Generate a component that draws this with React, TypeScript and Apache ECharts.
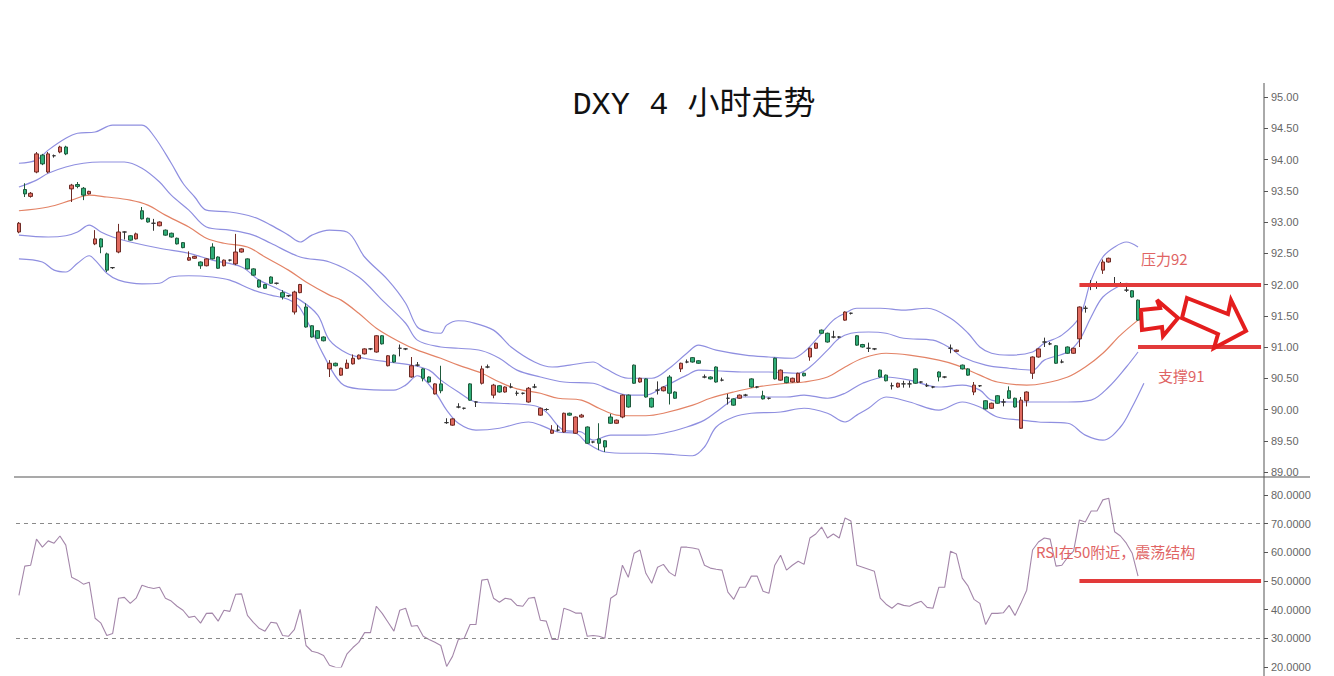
import React, { useEffect, useRef } from 'react';
import * as echarts from 'echarts';

const TITLE = 'DXY 4 小时走势';
const SLOT_COUNT = 213;
const PRICE_MIN = 89;
const PRICE_MAX = 95;
const PRICE_STEP = 0.5;
const RSI_MIN = 20;
const RSI_MAX = 80;
const RSI_STEP = 10;
const RESISTANCE = 92;
const SUPPORT = 91;
const RSI_MID = 50;
const RSI_HIGH = 70;
const RSI_LOW = 30;
const RES_FROM = 181;
const SUP_FROM = 191;
const LEVEL_TO = 212;

// [open, close, low, high]
const CANDLES: number[][] = [
  [92.84, 92.98, 92.82, 93.0], [93.52, 93.45, 93.4, 93.62], [93.41, 93.46, 93.39, 93.48], [93.8, 94.09, 93.78, 94.12], [94.07, 93.93, 93.91, 94.09],
  [93.8, 94.09, 93.78, 94.12], [94.06, 94.06, 94.03, 94.08], [94.12, 94.2, 94.1, 94.22], [94.2, 94.09, 94.07, 94.22], [93.53, 93.59, 93.32, 93.61],
  [93.6, 93.57, 93.54, 93.64], [93.54, 93.43, 93.35, 93.56], [93.45, 93.49, 93.44, 93.5], [92.65, 92.73, 92.63, 92.87], [92.73, 92.6, 92.5, 92.74],
  [92.49, 92.23, 92.2, 92.51], [92.27, 92.27, 92.25, 92.28], [92.52, 92.84, 92.5, 92.97], [92.84, 92.84, 92.72, 92.85], [92.78, 92.71, 92.7, 92.79],
  [92.73, 92.81, 92.72, 92.83], [93.18, 93.05, 93.04, 93.24], [93.06, 93.0, 92.99, 93.07], [92.98, 92.98, 92.86, 93.05], [92.94, 93.0, 92.93, 93.01],
  [92.87, 92.79, 92.78, 92.88], [92.82, 92.76, 92.75, 92.83], [92.74, 92.65, 92.64, 92.75], [92.67, 92.59, 92.58, 92.68], [92.39, 92.43, 92.38, 92.53],
  [92.42, 92.45, 92.41, 92.46], [92.36, 92.3, 92.25, 92.37], [92.3, 92.41, 92.29, 92.42], [92.6, 92.41, 92.4, 92.66], [92.44, 92.26, 92.25, 92.45],
  [92.3, 92.39, 92.29, 92.4], [92.39, 92.39, 92.37, 92.4], [92.33, 92.52, 92.31, 92.81], [92.52, 92.57, 92.51, 92.58], [92.41, 92.25, 92.24, 92.42],
  [92.25, 92.15, 92.14, 92.26], [92.07, 91.96, 91.95, 92.08], [92.0, 91.94, 91.93, 92.01], [92.12, 92.02, 92.01, 92.13], [92.02, 92.02, 92.0, 92.03],
  [91.87, 91.8, 91.76, 91.91], [91.82, 91.82, 91.8, 91.83], [91.56, 91.88, 91.52, 91.9], [91.87, 92.0, 91.86, 92.01], [91.64, 91.32, 91.31, 91.7],
  [91.34, 91.16, 91.15, 91.35], [91.26, 91.14, 91.13, 91.27], [91.16, 91.1, 91.09, 91.17], [90.65, 90.74, 90.52, 90.79], [90.74, 90.7, 90.69, 90.75],
  [90.55, 90.66, 90.54, 90.67], [90.66, 90.74, 90.65, 90.8], [90.73, 90.82, 90.72, 90.88], [90.81, 90.87, 90.8, 90.88], [90.89, 90.97, 90.88, 90.98],
  [90.97, 90.97, 90.95, 90.98], [90.92, 91.18, 90.91, 91.19], [91.18, 91.05, 91.04, 91.19], [90.7, 90.86, 90.69, 90.87], [90.87, 90.76, 90.75, 90.88],
  [90.98, 90.98, 90.85, 91.04], [90.97, 90.97, 90.95, 90.98], [90.52, 90.7, 90.51, 90.84], [90.71, 90.71, 90.69, 90.76], [90.65, 90.5, 90.45, 90.66],
  [90.52, 90.44, 90.43, 90.53], [90.25, 90.41, 90.24, 90.42], [90.41, 90.3, 90.26, 90.7], [89.79, 89.79, 89.77, 89.86], [89.75, 89.85, 89.74, 89.86],
  [90.04, 90.04, 90.02, 90.1], [90.02, 90.02, 90.0, 90.03], [90.41, 90.15, 90.14, 90.42], [90.12, 90.12, 90.04, 90.13], [90.42, 90.65, 90.4, 90.7],
  [90.68, 90.68, 90.66, 90.72], [90.23, 90.39, 90.18, 90.41], [90.38, 90.28, 90.27, 90.39], [90.28, 90.36, 90.27, 90.37], [90.36, 90.36, 90.34, 90.42],
  [90.26, 90.26, 90.22, 90.3], [90.26, 90.26, 90.24, 90.27], [90.12, 90.34, 90.11, 90.36], [90.36, 90.36, 90.34, 90.41], [89.91, 90.02, 89.9, 90.03],
  [90.0, 90.0, 89.98, 90.02], [89.62, 89.67, 89.61, 89.75], [89.67, 89.67, 89.65, 89.75], [89.64, 89.94, 89.63, 89.95], [89.94, 89.91, 89.9, 89.95],
  [89.62, 89.88, 89.61, 89.89], [89.88, 89.91, 89.87, 89.93], [89.72, 89.46, 89.45, 89.73], [89.48, 89.48, 89.46, 89.49], [89.53, 89.46, 89.35, 89.78],
  [89.5, 89.4, 89.32, 89.51], [89.88, 89.78, 89.77, 89.93], [89.78, 89.83, 89.77, 89.84], [89.88, 90.23, 89.86, 90.24], [90.23, 90.04, 90.03, 90.24],
  [90.71, 90.42, 90.41, 90.72], [90.44, 90.5, 90.43, 90.51], [90.49, 90.2, 90.19, 90.5], [90.18, 90.04, 90.03, 90.19], [90.31, 90.31, 90.24, 90.45],
  [90.3, 90.36, 90.29, 90.37], [90.52, 90.26, 90.08, 90.55], [90.28, 90.18, 90.17, 90.29], [90.65, 90.74, 90.6, 90.75], [90.76, 90.76, 90.74, 90.8],
  [90.83, 90.76, 90.75, 90.84], [90.78, 90.74, 90.73, 90.79], [90.52, 90.52, 90.5, 90.56], [90.52, 90.49, 90.48, 90.53], [90.68, 90.44, 90.43, 90.69],
  [90.47, 90.47, 90.45, 90.51], [90.18, 90.18, 90.08, 90.25], [90.17, 90.07, 90.06, 90.18], [90.18, 90.23, 90.17, 90.24], [90.23, 90.23, 90.21, 90.25],
  [90.49, 90.36, 90.35, 90.5], [90.36, 90.36, 90.34, 90.37], [90.22, 90.17, 90.16, 90.3], [90.18, 90.18, 90.16, 90.19], [90.82, 90.49, 90.48, 90.83],
  [90.47, 90.63, 90.46, 90.64], [90.52, 90.43, 90.42, 90.53], [90.44, 90.5, 90.43, 90.51], [90.44, 90.58, 90.43, 90.59], [90.58, 90.54, 90.53, 90.59],
  [90.84, 90.98, 90.78, 90.99], [90.98, 91.06, 90.97, 91.07], [91.27, 91.22, 91.21, 91.28], [91.22, 91.08, 91.07, 91.23], [91.16, 91.16, 91.14, 91.26],
  [91.16, 91.16, 91.14, 91.17], [91.43, 91.56, 91.42, 91.57], [91.54, 91.54, 91.52, 91.55], [91.18, 91.03, 91.02, 91.19], [91.04, 91.0, 90.99, 91.05],
  [90.98, 90.98, 90.92, 91.07], [90.97, 90.97, 90.95, 90.98], [90.63, 90.52, 90.51, 90.64], [90.55, 90.46, 90.45, 90.56], [90.38, 90.38, 90.32, 90.43],
  [90.36, 90.42, 90.35, 90.43], [90.41, 90.41, 90.35, 90.46], [90.41, 90.41, 90.35, 90.46], [90.65, 90.42, 90.41, 90.66], [90.44, 90.44, 90.42, 90.45],
  [90.38, 90.38, 90.36, 90.42], [90.36, 90.36, 90.34, 90.37], [90.6, 90.52, 90.45, 90.61], [90.52, 90.52, 90.5, 90.53], [90.98, 90.98, 90.9, 91.04],
  [90.93, 90.95, 90.92, 90.96], [90.71, 90.65, 90.64, 90.72], [90.65, 90.55, 90.54, 90.66], [90.28, 90.39, 90.23, 90.44], [90.38, 90.38, 90.36, 90.39],
  [90.14, 90.01, 90.0, 90.15], [90.02, 90.1, 90.01, 90.11], [90.22, 90.1, 90.09, 90.23], [90.12, 90.12, 90.05, 90.17], [90.3, 90.18, 90.17, 90.37],
  [90.18, 90.04, 90.03, 90.19], [89.7, 90.15, 89.69, 90.2], [90.14, 90.28, 90.05, 90.29], [90.58, 90.84, 90.49, 90.85], [90.84, 90.97, 90.83, 90.98],
  [91.08, 91.08, 91.0, 91.15], [91.05, 91.05, 91.03, 91.08], [91.02, 90.74, 90.73, 91.03], [90.76, 90.76, 90.74, 90.8], [91.0, 90.9, 90.89, 91.01],
  [90.9, 90.98, 90.89, 90.99], [91.13, 91.64, 91.0, 91.65], [91.62, 91.62, 91.55, 91.66], [92.0, 92.0, 91.91, 92.07], [92.0, 92.0, 91.93, 92.05],
  [92.23, 92.36, 92.17, 92.4], [92.36, 92.42, 92.35, 92.43], [92.0, 92.0, 91.98, 92.12], [91.98, 91.98, 91.96, 92.04], [91.91, 91.91, 91.88, 92.0],
  [91.9, 91.8, 91.79, 91.91], [91.75, 91.43, 91.42, 91.76],
];

const RSI: number[] = [
  45, 55.2, 55.5, 64.6, 61.8, 64, 63.2, 65.7, 62.5, 51.3,
  50.3, 48.9, 49.6, 37, 35.3, 31, 31.7, 44, 44.3, 42.2,
  44, 48.5, 47.8, 47.4, 47.8, 44, 43, 41.2, 39.8, 37.3,
  37.7, 35.3, 38.7, 38.8, 36, 39.8, 39.4, 45.4, 45.5, 38,
  35.6, 33.5, 32.5, 35.6, 35.3, 31, 30.7, 33, 40.1, 27.5,
  25.5, 25, 24, 20.6, 19.9, 19.8, 24.6, 26.8, 28.6, 32,
  32, 41.2, 38.7, 35.6, 32.5, 39.8, 40.5, 34.2, 34.5, 30.7,
  29.6, 28.6, 27.5, 20.2, 23.7, 29.6, 30, 34.8, 34.8, 50.3,
  50.6, 44, 42.6, 44, 43.6, 41.5, 41.2, 44, 44.3, 36.3,
  36, 29.6, 29.6, 40.5, 39.8, 38.8, 38.8, 30.7, 31, 30.7,
  30, 44, 45.4, 55.5, 51.3, 59.7, 60.8, 52.7, 49.2, 54.8,
  55.8, 53, 51.7, 61.8, 61.8, 61.5, 61.1, 55.5, 54.5, 54.1,
  53.8, 46.1, 43.6, 47.8, 47.8, 51.7, 51.7, 46.4, 45.7, 55.5,
  59, 53.8, 55.5, 56.9, 55.8, 65, 66.4, 68.8, 65, 66.4,
  65, 72, 70.9, 55.5, 54.8, 54.1, 53.4, 44, 41.9, 40.5,
  42.2, 41.5, 41.2, 42.2, 42.9, 40.8, 40.5, 47.8, 47.8, 60.4,
  59.4, 51, 48.2, 43.6, 42.2, 34.8, 38.7, 38.7, 38.9, 41.5,
  38, 42.2, 46.8, 60.8, 63.6, 65, 64.6, 55.2, 55.5, 58.3,
  60.4, 71.3, 70.6, 74.4, 74.4, 78.3, 78.9, 67.2, 65.7, 63.2,
  59.7, 51.7,
];

// Bollinger-style bands: [candle index, price]
const BAND_OUTER_UP: number[][] = [[0,93.94],[3,93.99],[5,94.15],[8,94.34],[10,94.42],[13,94.44],[16,94.55],[21,94.55],[23,94.38],[26,93.94],[28,93.62],[30,93.4],[32,93.19],[36,93.16],[40,93.08],[43,92.95],[46,92.79],[48,92.68],[50,92.79],[53,92.87],[56,92.84],[59,92.44],[63,92.07],[66,91.7],[68,91.32],[70,91.24],[72,91.22],[73,91.35],[75,91.42],[77,91.4],[81,91.27],[84,91.0],[88,90.76],[91,90.68],[94,90.71],[98,90.76],[100,90.66],[104,90.5],[108,90.5],[111,90.66],[114,90.9],[116,91.03],[119,90.95],[124,90.87],[128,90.84],[132,90.82],[134,90.92],[137,91.22],[139,91.43],[141,91.54],[143,91.62],[147,91.62],[151,91.59],[155,91.62],[159,91.46],[162,91.22],[164,91.0],[166,90.9],[169,90.87],[173,90.92],[175,91.06],[178,91.19],[181,91.48],[183,92.07],[185,92.44],[187,92.6],[189,92.68],[191,92.6]];
const BAND_INNER_UP: number[][] = [[0,93.56],[3,93.67],[5,93.78],[8,93.88],[11,93.94],[14,93.96],[18,93.96],[21,93.86],[24,93.64],[26,93.43],[29,93.19],[32,92.92],[36,92.87],[40,92.79],[43,92.66],[48,92.44],[53,92.36],[58,92.12],[62,91.75],[66,91.38],[68,91.11],[72,91.0],[75,90.98],[79,90.94],[82,90.82],[85,90.63],[89,90.52],[93,90.44],[98,90.42],[101,90.31],[104,90.23],[107,90.23],[110,90.36],[114,90.55],[116,90.63],[119,90.62],[124,90.6],[128,90.6],[133,90.58],[135,90.68],[138,90.95],[140,91.14],[142,91.22],[145,91.24],[148,91.22],[151,91.14],[156,91.11],[159,90.98],[161,90.84],[165,90.71],[169,90.66],[173,90.63],[175,90.79],[179,90.92],[181,91.11],[183,91.48],[185,91.8],[188,91.99],[189,92.02],[191,91.98]];
const BAND_MID: number[][] = [[0,93.18],[5,93.24],[9,93.35],[12,93.43],[15,93.4],[19,93.35],[22,93.27],[25,93.11],[29,92.92],[32,92.74],[35,92.66],[39,92.6],[42,92.44],[46,92.23],[49,92.04],[53,91.83],[55,91.75],[58,91.54],[61,91.3],[65,91.08],[68,90.95],[72,90.82],[75,90.71],[79,90.58],[82,90.44],[85,90.33],[89,90.26],[92,90.18],[96,90.15],[99,90.02],[102,89.91],[104,89.9],[107,89.9],[110,89.94],[115,90.07],[118,90.18],[122,90.28],[126,90.36],[131,90.42],[134,90.44],[138,90.52],[141,90.68],[144,90.82],[148,90.9],[152,90.87],[157,90.79],[160,90.71],[164,90.55],[167,90.44],[172,90.39],[175,90.42],[179,90.52],[182,90.68],[185,90.9],[188,91.19],[191,91.43]];
const BAND_INNER_LOW: number[][] = [[0,92.79],[5,92.76],[8,92.78],[10,92.84],[12,92.95],[14,92.84],[16,92.76],[19,92.68],[24,92.58],[29,92.5],[33,92.39],[38,92.28],[41,92.07],[44,91.94],[48,91.75],[51,91.51],[53,91.11],[56,90.9],[59,90.82],[63,90.76],[67,90.71],[70,90.63],[72,90.47],[75,90.28],[78,90.12],[82,90.1],[88,90.06],[90,89.96],[93,89.67],[96,89.64],[98,89.51],[101,89.59],[104,89.59],[107,89.59],[110,89.62],[114,89.72],[117,89.83],[119,89.96],[121,90.1],[123,90.2],[126,90.2],[131,90.2],[134,90.23],[138,90.18],[141,90.26],[144,90.42],[148,90.52],[152,90.47],[157,90.36],[161,90.39],[164,90.31],[166,90.15],[169,90.12],[174,90.12],[179,90.12],[183,90.15],[186,90.36],[189,90.68],[191,90.92]];
const BAND_OUTER_LOW: number[][] = [[0,92.41],[4,92.36],[6,92.23],[8,92.2],[10,92.34],[12,92.46],[13,92.39],[15,92.18],[17,92.07],[21,92.01],[24,92.02],[26,92.12],[29,92.14],[33,92.12],[36,92.07],[40,91.91],[43,91.83],[46,91.76],[48,91.62],[52,90.87],[55,90.42],[58,90.33],[64,90.31],[66,90.39],[68,90.54],[71,90.28],[73,89.99],[75,89.78],[78,89.67],[82,89.7],[87,89.8],[89,89.75],[92,89.64],[95,89.62],[97,89.46],[100,89.32],[104,89.3],[107,89.3],[110,89.29],[115,89.26],[117,89.4],[119,89.72],[122,89.88],[125,89.94],[130,89.96],[134,90.02],[138,89.94],[141,89.8],[143,89.91],[145,90.02],[148,90.2],[152,90.12],[157,89.99],[161,90.12],[164,90.04],[167,89.88],[171,89.83],[174,89.8],[179,89.78],[182,89.59],[185,89.51],[188,89.72],[190,90.04],[192,90.42]];

const RED = '#e23a3a';
const NOTE = '#e06464';
const BAND = '#8f8fe0';
const MIDLINE = '#e38366';

export default function App() {
  const ref = useRef<HTMLDivElement>(null);
  useEffect(() => {
    document.body.style.margin = '0';
    const chart = echarts.init(ref.current!, undefined, { renderer: 'svg' });
    const cats = Array.from({ length: SLOT_COUNT }, (_, i) => String(i));
    const axisLabel = (digits: number) => ({
      color: '#666', fontSize: 11, fontFamily: 'Liberation Sans', margin: 7,
      formatter: (v: number) => v.toFixed(digits),
    });
    const bandSeries = (data: number[][], color: string) => ({
      type: 'line', data, xAxisIndex: 0, yAxisIndex: 0, symbol: 'none', smooth: 0.35,
      lineStyle: { color, width: 1.2 }, z: 2, silent: true,
    });
    chart.setOption({
      animation: false,
      backgroundColor: '#fff',
      grid: [
        { left: 16, right: 70, top: 97, height: 375 },
        { left: 16, right: 70, top: 495, height: 172 },
      ],
      xAxis: [
        { type: 'category', data: cats, gridIndex: 0, boundaryGap: true, show: false },
        { type: 'category', data: cats, gridIndex: 1, boundaryGap: true, show: false },
      ],
      yAxis: [
        { type: 'value', gridIndex: 0, position: 'right', min: PRICE_MIN, max: PRICE_MAX, interval: PRICE_STEP,
          axisLine: { show: false }, axisTick: { show: true, length: 4, lineStyle: { color: '#555' } },
          splitLine: { show: false }, axisLabel: axisLabel(2) },
        { type: 'value', gridIndex: 1, position: 'right', min: RSI_MIN, max: RSI_MAX, interval: RSI_STEP,
          axisLine: { show: false }, axisTick: { show: true, length: 4, lineStyle: { color: '#555' } },
          splitLine: { show: false }, axisLabel: axisLabel(4) },
      ],
      series: [
        bandSeries(BAND_OUTER_UP, BAND),
        bandSeries(BAND_INNER_UP, BAND),
        bandSeries(BAND_MID, MIDLINE),
        bandSeries(BAND_INNER_LOW, BAND),
        bandSeries(BAND_OUTER_LOW, BAND),
        {
          type: 'candlestick', data: CANDLES.map((c) => [c[0], c[1], c[2], c[3]]),
          xAxisIndex: 0, yAxisIndex: 0, barWidth: 4, z: 3,
          itemStyle: { color: '#e06a5f', color0: '#2fae78', borderColor: '#6e2b25', borderColor0: '#1f5a3c', borderColorDoji: '#333', borderWidth: 1 },
          markLine: {
            silent: true, symbol: ['none', 'none'], label: { show: false }, z: 10,
            lineStyle: { color: RED, width: 4, type: 'solid' },
            data: [
              [{ coord: [RES_FROM, RESISTANCE] }, { coord: [LEVEL_TO, RESISTANCE] }],
              [{ coord: [SUP_FROM, SUPPORT] }, { coord: [LEVEL_TO, SUPPORT] }],
            ],
          },
        },
        {
          type: 'line', data: RSI, xAxisIndex: 1, yAxisIndex: 1, symbol: 'none',
          lineStyle: { color: '#a487aa', width: 1.1 }, z: 3,
          markLine: {
            silent: true, symbol: ['none', 'none'], label: { show: false },
            data: [
              { yAxis: RSI_HIGH, lineStyle: { color: '#8a8a8a', width: 1, type: [4, 4] } },
              { yAxis: RSI_LOW, lineStyle: { color: '#8a8a8a', width: 1, type: [4, 4] } },
              [{ coord: [RES_FROM, RSI_MID], lineStyle: { color: RED, width: 4, type: 'solid' } }, { coord: [LEVEL_TO, RSI_MID] }],
            ],
          },
        },
      ],
      graphic: [
        { type: 'line', shape: { x1: 14, y1: 477, x2: 1310, y2: 477 }, style: { stroke: '#8c8c8c', lineWidth: 1.5 }, z: 20 },
        { type: 'line', shape: { x1: 1264, y1: 83, x2: 1264, y2: 676 }, style: { stroke: '#555', lineWidth: 1 }, z: 20 },
        { type: 'text', x: 694, y: 105, z: 20, style: { text: TITLE, fontSize: 32, fontFamily: "'Liberation Mono', 'Noto Sans CJK SC'", fill: '#111', align: 'center', verticalAlign: 'middle' } },
        { type: 'text', x: 1141, y: 258, z: 20, style: { text: '压力92', fontSize: 15, fontFamily: "'Noto Sans CJK SC'", fill: NOTE, align: 'left', verticalAlign: 'middle' } },
        { type: 'text', x: 1158, y: 375, z: 20, style: { text: '支撑91', fontSize: 15, fontFamily: "'Noto Sans CJK SC'", fill: NOTE, align: 'left', verticalAlign: 'middle' } },
        { type: 'text', x: 1036, y: 551, z: 20, style: { text: 'RSI在50附近，震荡结构', fontSize: 15, fontFamily: "'Noto Sans CJK SC'", fill: NOTE, align: 'left', verticalAlign: 'middle' } },
        { type: 'polygon', z: 20, shape: { points: [[1141, 310], [1160, 308], [1157, 300], [1178, 318], [1163, 336], [1162, 327], [1142, 330]] }, style: { fill: 'none', stroke: '#e41e1e', lineWidth: 4, lineJoin: 'miter' } },
        { type: 'polygon', z: 20, shape: { points: [[1187, 298], [1228, 314], [1231, 300], [1246, 331], [1214, 348], [1218, 334], [1182, 318]] }, style: { fill: 'none', stroke: '#e41e1e', lineWidth: 4, lineJoin: 'miter' } },
      ],
    });
    return () => chart.dispose();
  }, []);
  return <div ref={ref} style={{ width: 1334, height: 676 }} />;
}
